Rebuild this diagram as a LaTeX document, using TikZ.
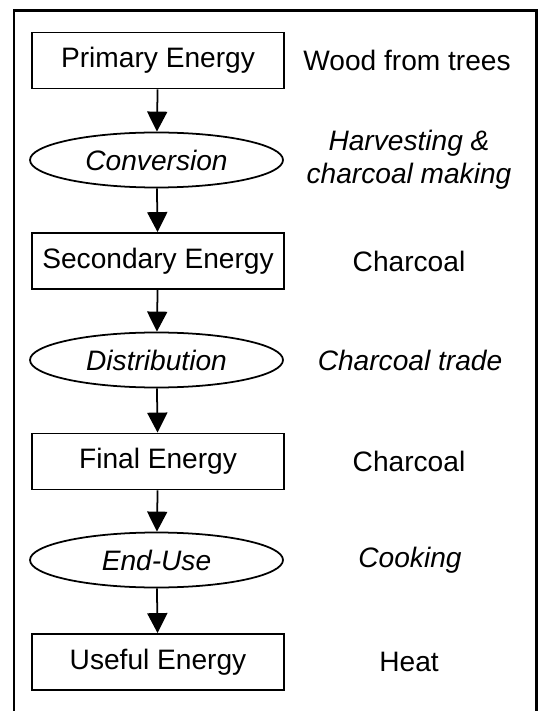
\documentclass[tikz,border=0pt]{standalone}
\usepackage{fontspec}
\setmainfont{Liberation Sans}
\usetikzlibrary{shapes.geometric,arrows.meta}

\begin{document}
\begin{tikzpicture}[font=\fontsize{8pt}{9.5pt}\selectfont]

\tikzstyle{every node} = [inner sep=0pt]
\tikzstyle{box} = [rectangle, draw, line width=0.5pt, minimum width=2.52cm, minimum height=0.56cm]
\tikzstyle{oval} = [ellipse, draw, line width=0.5pt, minimum width=2.53cm, minimum height=0.55cm, font=\fontsize{8pt}{9.5pt}\selectfont\itshape]
\tikzstyle{note} = [align=center]
\tikzstyle{flow} = [line width=0.5pt, -{Triangle[width=0.2cm,length=0.2cm]}]

\useasboundingbox (0,0) rectangle (5.38,-7.11);
\draw[line width=0.85pt] (0.14,-7.4) -- (0.14,-0.11) -- (5.36,-0.11) -- (5.36,-7.4);

\node[box] (pe) at (1.58,-0.605) {Primary Energy};
\node[oval] (cv) at (1.565,-1.60) {Conversion};
\node[box] (se) at (1.58,-2.61) {Secondary Energy};
\node[oval] (ds) at (1.565,-3.60) {Distribution};
\node[box] (fe) at (1.58,-4.615) {Final Energy};
\node[oval] (eu) at (1.565,-5.60) {End-Use};
\node[box] (ue) at (1.58,-6.62) {Useful Energy};

\node[note] (wood) at (4.07,-0.605) {Wood from trees};
\node[note, font=\fontsize{8pt}{9.5pt}\selectfont\itshape] (harv) at (4.09,-1.60) {Harvesting \&\\charcoal making};
\node[note] (char1) at (4.09,-2.61) {Charcoal};
\node[note, font=\fontsize{8pt}{9.5pt}\selectfont\itshape] (trade) at (4.10,-3.60) {Charcoal trade};
\node[note] (char2) at (4.09,-4.615) {Charcoal};
\node[note, font=\fontsize{8pt}{9.5pt}\selectfont\itshape] (cook) at (4.10,-5.60) {Cooking};
\node[note] (heat) at (4.09,-6.62) {Heat};

\draw[flow] (pe) -- (cv);
\draw[flow] (cv) -- (se);
\draw[flow] (se) -- (ds);
\draw[flow] (ds) -- (fe);
\draw[flow] (fe) -- (eu);
\draw[flow] (eu) -- (ue);

\end{tikzpicture}
\end{document}
